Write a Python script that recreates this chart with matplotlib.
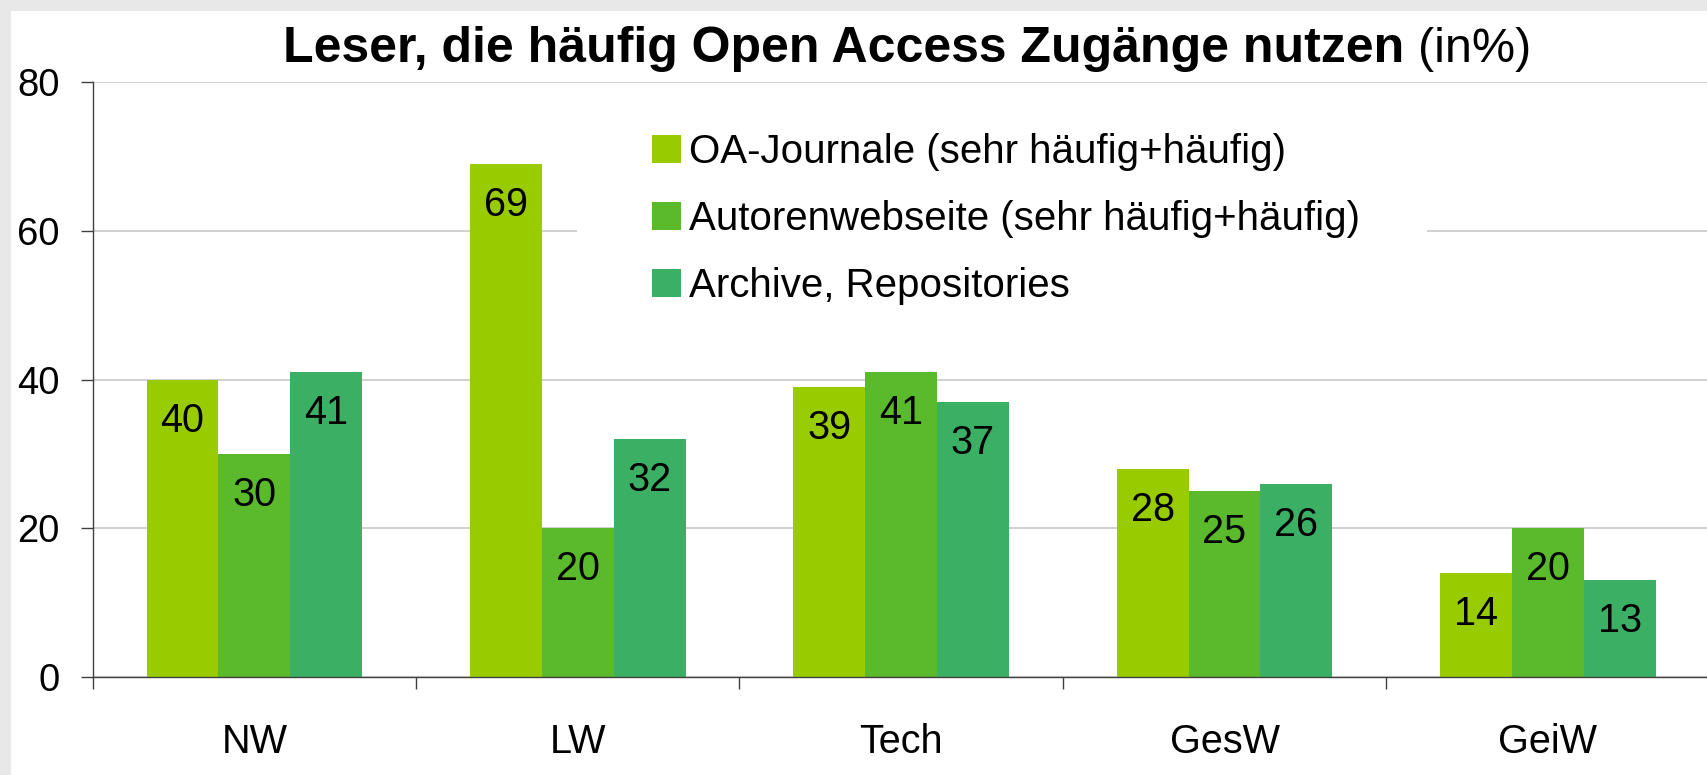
import numpy as np
import matplotlib
matplotlib.use("Agg")
import matplotlib.pyplot as plt
from matplotlib.patches import Rectangle, Patch

plt.rcParams['font.family'] = ['Liberation Sans', 'DejaVu Sans']

# data
categories = ["NW", "LW", "Tech", "GesW", "GeiW"]
series_names = ["OA-Journale (sehr häufig+häufig)",
                "Autorenwebseite (sehr häufig+häufig)",
                "Archive, Repositories"]
oa_journale = [40, 69, 39, 28, 14]
autorenwebseite = [30, 20, 41, 25, 20]
archive = [41, 32, 37, 26, 13]
colors = ["#99CC00", "#5BBA2B", "#3BB064"]

W, H = 1708, 775
fig = plt.figure(figsize=(W / 100, H / 100), dpi=100)
fig.patch.set_facecolor("#E8E8E8")
fig.add_artist(Rectangle((11 / W, 0), 1, 1 - 11 / H, transform=fig.transFigure,
                         facecolor="white", edgecolor="none", zorder=-1))

ax = fig.add_axes([92.7 / W, 1 - 677 / H, (1709.6 - 92.7) / W, (677 - 82) / H])
ax.set_facecolor("none")

x = np.arange(len(categories))
bw = 1 / 4.5  # excel gap width 150%
for i, (vals, col) in enumerate(zip([oa_journale, autorenwebseite, archive], colors)):
    pos = x + (i - 1) * bw
    bars = ax.bar(pos, vals, width=bw, color=col, edgecolor="none", zorder=2)
    for xp, v in zip(pos, vals):
        ax.annotate(str(v), (xp, v), xytext=(0, -52), textcoords="offset pixels",
                    ha="center", va="baseline", fontsize=28.5, zorder=3)

ax.set_xlim(-0.5, 4.5)
ax.set_ylim(0, 80)
ax.set_yticks([0, 20, 40, 60, 80])
ax.yaxis.grid(True, color="#C8C8C8", linewidth=1.2)
ax.set_axisbelow(True)
ax.tick_params(axis="y", length=8.6, width=1, color="#404040", pad=15, labelsize=27.5)

# boundaries get tick marks, centres get the labels
ax.set_xticks(np.arange(-0.5, 5, 1))
ax.set_xticklabels([])
ax.tick_params(axis="x", which="major", length=8.6, width=1, color="#404040")
ax.set_xticks(x, minor=True)
ax.set_xticklabels(categories, minor=True)
ax.tick_params(axis="x", which="minor", length=0, pad=33, labelsize=28.5)

for s in ["top", "right"]:
    ax.spines[s].set_visible(False)
ax.spines["left"].set_color("#404040")
ax.spines["bottom"].set_color("#404040")
ax.spines["left"].set_linewidth(1)
ax.spines["bottom"].set_linewidth(1)

# legend area hides the gridline behind it
ax.add_patch(Rectangle((577 / W, 1 - 345 / H), (1427 - 577) / W, 235 / H,
                       transform=fig.transFigure, facecolor="white",
                       edgecolor="none", zorder=1, clip_on=False))
handles = [Patch(facecolor=c, edgecolor="none") for c in colors]
ax.legend(handles, series_names, loc="upper left", frameon=False,
          bbox_to_anchor=(652 / W, 1 - 133 / H), bbox_transform=fig.transFigure,
          fontsize=29, handlelength=0.72, handleheight=0.72, handletextpad=0.2,
          labelspacing=0.72, borderpad=0, borderaxespad=0)

fig.text(1404 / W, 1 - 62 / H, "Leser, die häufig Open Access Zugänge nutzen",
         ha="right", va="baseline", fontsize=36, fontweight="bold")
fig.text(1418 / W, 1 - 62 / H, "(in%)", ha="left", va="baseline", fontsize=35)

fig.savefig("out.png", dpi=100, facecolor=fig.get_facecolor())
